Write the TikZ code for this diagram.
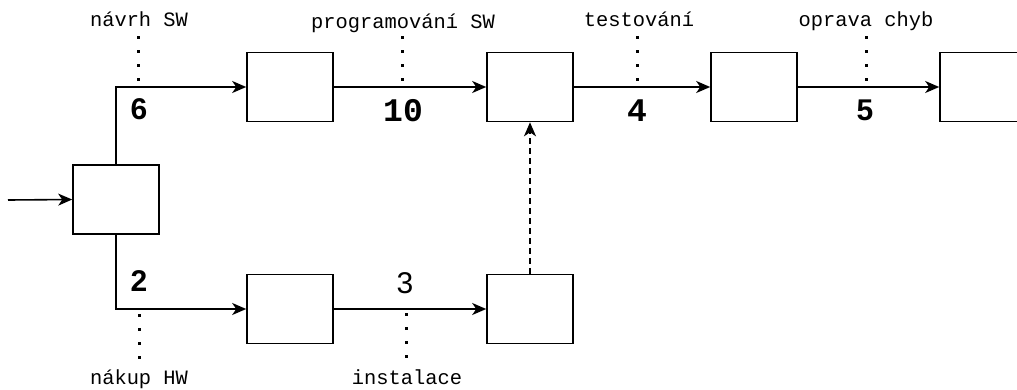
\documentclass[tikz,border=0pt]{standalone}
\usepackage{fontspec}
\setmainfont{Liberation Sans}
\newfontfamily\labelmono{Liberation Mono}
\usetikzlibrary{arrows.meta}

\begin{document}
\begin{tikzpicture}[x=1pt,y=-1pt,
  stagebox/.style={draw=black, line width=1.6pt, fill=white,
    minimum width=86pt, minimum height=69pt, inner sep=0pt},
  flow/.style={line width=1.6pt,
    -{Stealth[length=14pt,width=12pt,inset=4pt]}},
  waitflow/.style={flow, dash pattern=on 6pt off 4pt},
  leader/.style={line width=3pt, dash pattern=on 3pt off 11pt},
  activity/.style={font=\labelmono\fontsize{20.4}{24}\selectfont,
    inner sep=0pt, anchor=base},
  durs/.style={font=\fontsize{30}{33}\selectfont\bfseries, inner sep=0pt},
  durreg/.style={font=\fontsize{30}{33}\selectfont, inner sep=0pt},
  durm/.style={font=\labelmono\fontsize{33}{36}\selectfont\bfseries, inner sep=0pt}
]
\useasboundingbox (0,0) rectangle (1017,389);

% event boxes
\node[stagebox] (start) at (116,199.5) {};
\node[stagebox] (a1) at (290,87) {};
\node[stagebox] (a2) at (530,87) {};
\node[stagebox] (a3) at (754,87) {};
\node[stagebox] (a4) at (983,87) {};
\node[stagebox] (b1) at (290,309) {};
\node[stagebox] (b2) at (530,309) {};

% connectors
\coordinate (entry) at (8,200);
\draw[flow] (entry) -- (start.west);
\draw[flow] (start.north) |- (a1.west);
\draw[flow] (start.south) |- (b1.west);
\draw[flow] (a1.east) -- (a2.west);
\draw[flow] (a2.east) -- (a3.west);
\draw[flow] (a3.east) -- (a4.west);
\draw[flow] (b1.east) -- (b2.west);
\draw[waitflow] (b2.north) -- (a2.south);

% durations
\node[durs] (n6) at (139,109.5) {6};
\node[durm] (n10) at (403,111) {10};
\node[durm] (n4) at (637,111) {4};
\node[durs] (n5) at (865,110) {5};
\node[durs] (n2) at (139,281) {2};
\node[durreg] (n3) at (405,283) {3};

% activity names
\node[activity] (l1) at (139,26) {návrh SW};
\node[activity] (l2) at (403,28) {programování SW};
\node[activity] (l3) at (639,26) {testování};
\node[activity] (l4) at (866,26) {oprava chyb};
\node[activity] (l5) at (139,384) {nákup HW};
\node[activity] (l6) at (407,384) {instalace};

% dotted leaders from the names to the arrows
\coordinate (l1a) at (138.5,36); \coordinate (l1b) at (138.5,81);
\coordinate (l2a) at (402,36);   \coordinate (l2b) at (402,81);
\coordinate (l3a) at (637,36);   \coordinate (l3b) at (637,81);
\coordinate (l4a) at (866,36);   \coordinate (l4b) at (866,81);
\coordinate (l5a) at (139,314);  \coordinate (l5b) at (139,359);
\coordinate (l6a) at (406,313);  \coordinate (l6b) at (406,358);
\draw[leader] (l1a) -- (l1b);
\draw[leader] (l2a) -- (l2b);
\draw[leader] (l3a) -- (l3b);
\draw[leader] (l4a) -- (l4b);
\draw[leader] (l5a) -- (l5b);
\draw[leader] (l6a) -- (l6b);
\end{tikzpicture}
\end{document}
